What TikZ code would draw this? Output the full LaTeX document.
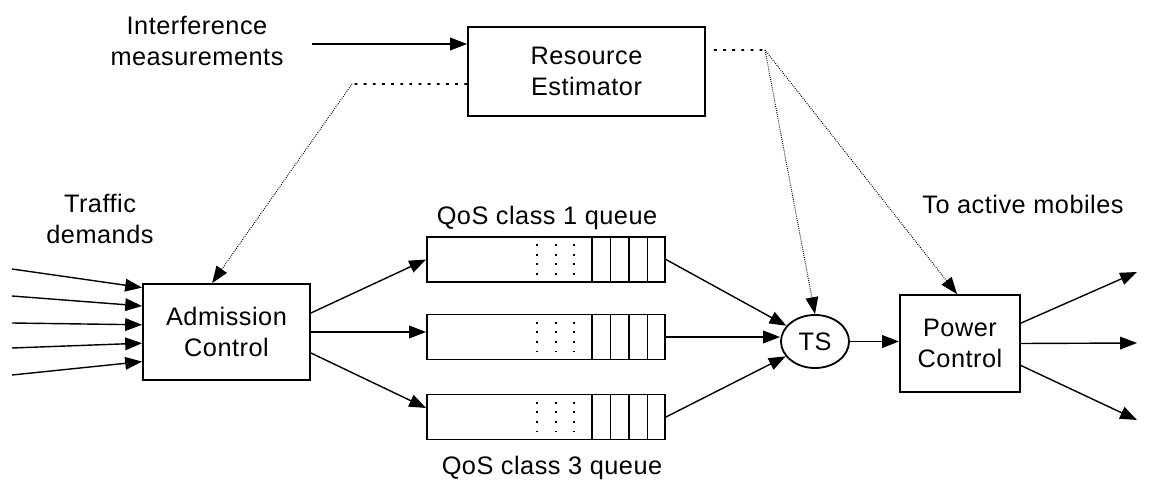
\documentclass[tikz,border=0pt]{standalone}
\usepackage{fontspec}
\setmainfont{Liberation Sans}[LetterSpace=2]
\usetikzlibrary{arrows.meta,shapes.geometric}

\tikzset{
  block/.style={draw, line width=1.3pt, align=center, inner sep=0pt},
  queuebox/.style={draw, line width=1.3pt, minimum width=5.95cm, minimum height=1.125cm, inner sep=0pt},
  arr/.style={line width=1pt, -{Triangle[length=12pt,width=9pt]}},
  ctrl/.style={line width=0.7pt, dash pattern=on 0.6pt off 0.9pt, -{Triangle[length=12pt,width=9pt]}},
  ctrlfeed/.style={line width=1.4pt, dash pattern=on 2pt off 4.5pt},
  slotdots/.style={line width=1.8pt, dash pattern=on 1.4pt off 5.47pt},
  txt/.style={align=center, inner sep=0pt}
}

\begin{document}
\begin{tikzpicture}[x=0.025cm, y=-0.025cm, font=\fontsize{18}{21.5}\selectfont]
  \useasboundingbox (0,0) rectangle (1156,484);

  % Blocks
  \node[block, minimum width=5.925cm, minimum height=2.225cm] (re) at (586.5,71.5) {Resource\\[1pt]Estimator};
  \node[block, minimum width=4.175cm, minimum height=2.4cm] (ac) at (226.5,332) {Admission\\Control};
  \node[block, minimum width=3cm, minimum height=2.425cm] (pc) at (960,343.5) {Power\\Control};
  \node[draw, ellipse, line width=1.3pt, minimum width=1.7cm, minimum height=1.325cm, inner sep=0pt] (ts) at (815,341.5) {TS};

  % Queues
  \node[queuebox] (q1) at (546,259.5) {};
  \node[queuebox] (q2) at (546,337) {};
  \node[queuebox] (q3) at (546,417) {};
  \foreach \q in {q1,q2,q3} {
    \foreach \k in {1,2,3,4}
      \draw[line width=1.3pt] ([xshift=-\k*0.4625cm]\q.north east) -- ([xshift=-\k*0.4625cm]\q.south east);
    \foreach \d in {2.3,2.75,3.225}
      \draw[slotdots] ([xshift=-\d cm, yshift=-0.2cm]\q.north east) -- ([xshift=-\d cm, yshift=0.2cm]\q.south east);
  }

  % Labels
  \node[txt] (meas) at (197,41) {Interference\\measurements};
  \node[txt] (traffic) at (100,219) {Traffic\\demands};
  \node[txt] (q1lab) at (547,218) {QoS class 1 queue};
  \node[txt] (q3lab) at (552,468) {QoS class 3 queue};
  \node[txt] (mob) at (1023,204) {To active mobiles};

  % Interference input
  \coordinate (iin) at (312,44);
  \draw[arr] (iin) -- (iin -| re.west);

  % Traffic demands
  \foreach \s/\e [count=\i] in {269/1.11, 296/0.65, 323/0.18, 348/-0.28, 375/-0.74} {
    \coordinate (in\i) at (12,\s);
    \draw[arr] (in\i) -- ([yshift=\e cm]ac.west);
  }

  % Admission control to queues
  \draw[arr] ([yshift=0.475cm]ac.east) -- (q1.west);
  \draw[arr] (ac.east) -- (ac.east -| q2.west);
  \draw[arr] ([yshift=-0.525cm]ac.east) -- ([yshift=0.225cm]q3.west);

  % Queues to scheduler
  \draw[arr] (q1.east) -- (ts);
  \draw[arr] (q2.east) -- (q2.east -| ts.west);
  \draw[arr] (q3.east) -- (ts);
  \draw[arr] (ts.east) -- (ts.east -| pc.west);

  % To mobiles
  \coordinate (out1) at (1137,272);
  \coordinate (out2) at (1137,343);
  \coordinate (out3) at (1137,420);
  \draw[arr] ([yshift=0.51cm]pc.east) -- (out1);
  \draw[arr] (pc.east) -- (out2);
  \draw[arr] ([yshift=-0.55cm]pc.east) -- (out3);

  % Estimator feedback
  \coordinate (lbend) at (352,84);
  \coordinate (rsplit) at (765,50);
  \draw[ctrlfeed] ([yshift=-0.3125cm]re.west) -- (lbend);
  \draw[ctrl] (lbend) -- ([xshift=-0.36cm]ac.north);
  \draw[ctrlfeed] ([yshift=0.5375cm, xshift=0.2cm]re.east) -- (rsplit);
  \draw[ctrl] (rsplit) -- (ts.north);
  \draw[ctrl] (rsplit) -- ([xshift=-0.075cm]pc.north);
\end{tikzpicture}
\end{document}
